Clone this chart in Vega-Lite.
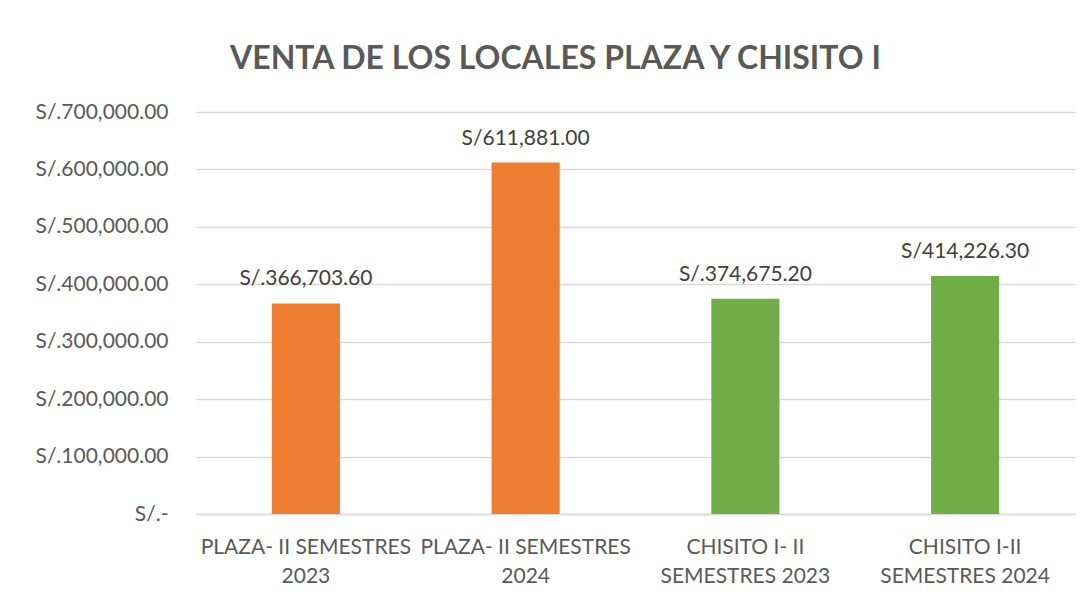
{
  "$schema": "https://vega.github.io/schema/vega-lite/v6.json",
  "autosize": {"type": "none"},
  "width": 879,
  "height": 402,
  "padding": {"left": 196, "top": 112, "right": 15, "bottom": 83},
  "background": "white",
  "config": {"view": {"stroke": null}, "font": "Lato"},
  "title": {
    "text": "VENTA DE LOS LOCALES PLAZA Y CHISITO I",
    "anchor": "middle",
    "dx": -80,
    "offset": 25,
    "fontSize": 32,
    "fontWeight": "bold",
    "color": "#595959",
    "font": "Lato"
  },
  "data": {
    "values": [
      {"categoria": "PLAZA- II SEMESTRES|2023", "venta": 366703.6, "etiqueta": "S/.366,703.60", "local": "PLAZA"},
      {"categoria": "PLAZA- II SEMESTRES|2024", "venta": 611881.0, "etiqueta": "S/611,881.00", "local": "PLAZA"},
      {"categoria": "CHISITO I- II|SEMESTRES 2023", "venta": 374675.2, "etiqueta": "S/.374,675.20", "local": "CHISITO"},
      {"categoria": "CHISITO I-II|SEMESTRES 2024", "venta": 414226.3, "etiqueta": "S/414,226.30", "local": "CHISITO"}
    ]
  },
  "encoding": {
    "x": {
      "field": "categoria",
      "type": "nominal",
      "sort": null,
      "scale": {"paddingInner": 0.69, "paddingOuter": 0.345},
      "axis": {
        "title": null,
        "labelAngle": 0,
        "labelExpr": "split(datum.value, '|')",
        "labelFontSize": 21,
        "labelColor": "#595959",
        "labelFont": "Lato",
        "labelLineHeight": 29,
        "labelPadding": 22,
        "labelBaseline": "top",
        "labelLimit": 0,
        "ticks": false,
        "domainColor": "#d9d9d9",
        "domainWidth": 1.5,
        "grid": false
      }
    },
    "y": {
      "field": "venta",
      "type": "quantitative",
      "scale": {"domain": [0, 700000], "nice": false},
      "axis": {
        "title": null,
        "values": [0, 100000, 200000, 300000, 400000, 500000, 600000, 700000],
        "labelExpr": "datum.value == 0 ? 'S/.-' : 'S/.' + format(datum.value, ',.2f')",
        "labelFontSize": 21,
        "labelColor": "#595959",
        "labelFont": "Lato",
        "labelPadding": 28,
        "labelLimit": 0,
        "ticks": false,
        "domain": false,
        "gridColor": "#d9d9d9",
        "gridWidth": 1.5
      }
    }
  },
  "layer": [
    {
      "mark": {"type": "bar"},
      "encoding": {
        "color": {
          "field": "local",
          "type": "nominal",
          "scale": {"domain": ["PLAZA", "CHISITO"], "range": ["#ED7D31", "#70AD47"]},
          "legend": null
        }
      }
    },
    {
      "mark": {"type": "text", "baseline": "bottom", "dy": -14, "fontSize": 21, "color": "#404040", "font": "Lato"},
      "encoding": {"text": {"field": "etiqueta"}}
    }
  ]
}
